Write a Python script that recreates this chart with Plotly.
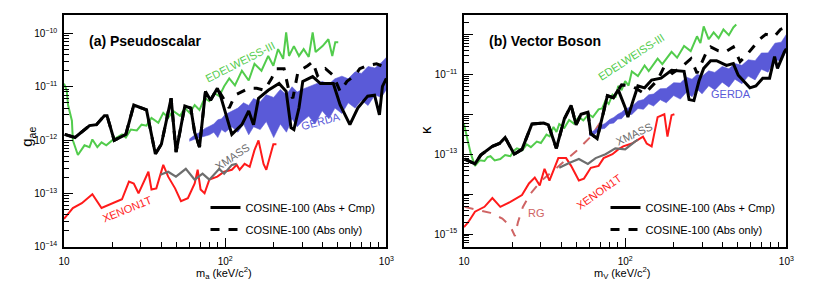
import plotly.graph_objects as go

# ================= (a) Pseudoscalar : g_ae vs m_a (keV/c^2) =================
a_cos_m = [10.1, 11.7, 14.4, 15.9, 17.8, 18.5, 20.5, 24.2, 27.1, 32.5, 36.9, 40.2, 46.2, 49.6, 56.2,
           61.2, 64.7, 69.3, 75.5, 81.1, 89.4, 93.3, 110, 127, 140, 150, 161, 185, 216, 239, 256, 267,
           287, 303, 349, 390, 469, 517, 594, 665, 766, 845, 906, 946, 1000]
a_cos_g = [1.28e-12, 1.12e-12, 1.87e-12, 1.95e-12, 2.86e-12, 2.86e-12, 9.9e-13, 1.28e-12, 4.55e-12,
           3.68e-12, 5.5e-13, 8.4e-13, 6.1e-12, 6.0e-13, 4.37e-12, 4.0e-12, 1.39e-12, 7.4e-13, 8.2e-12,
           5.6e-12, 9.35e-12, 6.95e-12, 1.28e-12, 1.95e-12, 3.53e-12, 1.95e-12, 6.1e-12, 8.6e-12,
           1.15e-11, 8.2e-12, 1.72e-12, 1.58e-12, 4.0e-12, 1.26e-11, 1.55e-11, 1.15e-11, 1.15e-11,
           4.55e-12, 1.95e-12, 4.0e-12, 6.67e-12, 6.95e-12, 2.98e-12, 1.02e-11, 1.43e-11]

a_abs_m = a_cos_m[:21] + [106, 115, 140, 157, 175, 194, 208, 232, 249, 263, 283, 325, 349, 374, 419,
                          469, 517, 570, 638, 684, 755, 869, 933, 1000]
a_abs_g = a_cos_g[:21] + [4.0e-12, 6.95e-12, 9.35e-12, 9.35e-12, 8.6e-12, 1.43e-11, 2.18e-11, 2.18e-11,
                          8.2e-12, 6.1e-12, 1.92e-11, 2.47e-11, 2.93e-11, 1.62e-11, 2.18e-11, 1.62e-11,
                          8.2e-12, 1.26e-11, 1.62e-11, 2.18e-11, 2.47e-11, 2.69e-11, 2.47e-11, 3.33e-11]

a_edw_m = [10.0, 10.4, 10.6, 11.2, 11.35, 12.2, 13.4, 14.4, 15.0, 16.1, 17.1, 18.3, 19.9, 21.3, 22.9,
           24.2, 26.0, 28.3, 30.3, 32.5, 34.9, 38.5, 41.3, 44.3, 47.5, 52.5, 56.2, 60.3, 64.7, 69.3,
           74.5, 79.8, 85.7, 91.9, 98.6, 106, 115, 127, 140, 152, 168, 185, 199, 213, 229, 239, 249,
           267, 287, 307, 330, 349, 364, 402, 437, 462, 482, 503]
a_edw_g = [1.15e-11, 8.6e-12, 4.55e-12, 2.31e-12, 9.9e-13, 5.26e-13, 8.0e-13, 7.4e-13, 1.03e-12, 7.4e-13,
           9.1e-13, 8.0e-13, 9.9e-13, 1.12e-12, 1.28e-12, 1.12e-12, 1.58e-12, 1.52e-12, 1.95e-12,
           1.87e-12, 2.62e-12, 2.12e-12, 3.24e-12, 2.62e-12, 3.53e-12, 2.86e-12, 4.0e-12, 3.24e-12,
           4.55e-12, 3.68e-12, 6.1e-12, 5.4e-12, 7.6e-12, 6.67e-12, 1.02e-11, 1.43e-11, 1.06e-11,
           2.0e-11, 1.31e-11, 2.69e-11, 2.0e-11, 3.78e-11, 2.47e-11, 5.08e-11, 3.33e-11, 1.04e-10,
           3.78e-11, 5.77e-11, 3.78e-11, 5.08e-11, 3.62e-11, 1.04e-10, 4.48e-11, 5.77e-11, 7.76e-11,
           3.78e-11, 6.84e-11, 6.84e-11]

gerda_m = [60, 65, 70, 75, 80, 85, 90, 95, 100, 110, 120, 130, 140, 150, 165, 180, 200, 220, 240, 260,
           280, 300, 330, 360, 400, 440, 480, 530, 580, 640, 700, 770, 850, 930, 1000]
a_gerda_hi = [1.05e-12, 1.26e-12, 1.41e-12, 1.66e-12, 1.82e-12, 2.0e-12, 2.4e-12, 2.51e-12, 3.02e-12,
              3.55e-12, 3.98e-12, 5.01e-12, 4.47e-12, 6.03e-12, 5.25e-12, 7.08e-12, 6.31e-12, 8.91e-12,
              7.08e-12, 1.0e-11, 7.94e-12, 8.91e-12, 1.0e-11, 1.12e-11, 1.26e-11, 1.12e-11, 1.41e-11,
              1.58e-11, 1.41e-11, 1.91e-11, 1.78e-11, 2.4e-11, 2.24e-11, 2.82e-11, 3.55e-11]
a_gerda_lo = [9.55e-13, 1.05e-12, 1.12e-12, 1.2e-12, 1.26e-12, 1.41e-12, 1.12e-12, 1.58e-12, 1.41e-12,
              1.78e-12, 1.41e-12, 2.0e-12, 1.26e-12, 1.78e-12, 1.58e-12, 2.24e-12, 1.12e-12, 2.0e-12,
              1.41e-12, 2.51e-12, 1.78e-12, 2.24e-12, 2.82e-12, 2.0e-12, 3.55e-12, 2.51e-12, 3.98e-12,
              3.16e-12, 5.01e-12, 3.98e-12, 5.62e-12, 4.47e-12, 7.08e-12, 6.31e-12, 8.91e-12]

a_xe_m = [10.0, 11.35, 12.9, 15.0, 17.1, 22.9, 25.3, 27.1, 29.0, 33.4, 34.9, 37.4, 41.3, 44.3, 48.9,
          53.2, 58.7, 64.7, 67.5, 70.4, 74.5, 79.8, 89.4, 98.6, 110, 118, 123, 132, 142, 152, 161,
          173, 180, 199, 208]
a_xe_g = [3.36e-14, 5.35e-14, 6.6e-14, 9.67e-14, 5.35e-14, 7.8e-14, 1.67e-13, 1.54e-13, 1.01e-13,
          2.56e-13, 1.19e-13, 1.25e-13, 3.44e-13, 2.07e-13, 1.25e-13, 7.2e-14, 8.2e-14, 1.54e-13,
          2.79e-13, 1.19e-13, 1.01e-13, 1.82e-13, 2.07e-13, 2.56e-13, 2.79e-13, 3.44e-13, 2.79e-13,
          3.59e-13, 3.16e-13, 6.5e-13, 9.9e-13, 3.59e-13, 2.79e-13, 8.4e-13, 8.4e-13]

a_xm_m = [39.6, 44.3, 49.5, 57.0, 64.7, 72.4, 79.8, 91.9, 98.6, 110, 118]
a_xm_g = [2.25e-13, 2.56e-13, 2.07e-13, 2.9e-13, 1.82e-13, 2.35e-13, 1.82e-13, 2.9e-13, 2.35e-13,
          3.44e-13, 3.59e-13]

# ================= (b) Vector Boson : kappa vs m_V (keV/c^2) =================
b_cos_m = [10.1, 11.7, 12.7, 15.0, 16.6, 18.0, 20.5, 22.9, 26.4, 31.2, 33.4, 37.4, 41.9, 46.2, 49.6,
           53.2, 58.7, 61.2, 67.0, 72.4, 77.6, 84.5, 90.6, 100, 104, 112, 120, 132, 146, 167, 194,
           232, 249, 267, 287, 307, 339, 369, 425, 469, 503, 594, 647, 714, 787, 845, 881, 973, 1000]
b_cos_k = [7.55e-14, 5.7e-14, 9.46e-14, 1.57e-13, 1.85e-13, 2.6e-13, 1.0e-13, 1.32e-13, 5.7e-13,
           6.0e-13, 5.4e-13, 1.4e-13, 7.55e-13, 1.66e-12, 5.4e-13, 1.0e-12, 1.12e-12, 3.25e-13,
           2.45e-13, 8.45e-13, 2.9e-12, 2.6e-12, 4.07e-12, 1.48e-12, 8.45e-13, 2.19e-12, 5.1e-12,
           4.56e-12, 7.14e-12, 7.98e-12, 1.25e-11, 1.18e-11, 2.32e-12, 2.19e-12, 6.75e-12, 1.4e-11,
           2.19e-11, 2.19e-11, 1.66e-11, 1.85e-11, 9.46e-12, 4.56e-12, 5.1e-12, 7.98e-12, 7.98e-12,
           2.75e-11, 1.4e-11, 3.64e-11, 4.3e-11]

b_abs_m = b_cos_m[:22] + [95, 110, 132, 159, 175, 196, 226, 256, 279, 316, 339, 379, 419, 469, 517,
                          562, 684, 745, 845, 919, 986]
b_abs_k = b_cos_k[:22] + [5.4e-12, 5.1e-12, 3.25e-12, 7.14e-12, 1.57e-11, 1.06e-11, 1.57e-11, 2.45e-11,
                          1.06e-11, 3.25e-11, 4.82e-11, 3.85e-11, 3.64e-11, 4.82e-11, 2.07e-11, 2.9e-11,
                          7.55e-11, 1.0e-10, 8.9e-11, 1.32e-10, 1.48e-10]

b_edw_m = [10.0, 10.5, 11.0, 11.7, 12.5, 13.4, 14.0, 14.6, 15.5, 16.8, 18.0, 19.4, 20.3, 21.3, 23.0,
           24.5, 26.0, 28.3, 30.0, 32.5, 34.0, 35.9, 37.5, 39.0, 42.0, 44.9, 48.0, 51.6, 55.0, 59.4,
           63.0, 68.4, 72.0, 75.5, 79.0, 83.4, 87.0, 90.6, 95.0, 100, 105, 110, 120, 132, 140, 159,
           170, 194, 210, 232, 255, 279, 293, 307, 330, 354, 380, 407, 440, 469, 489]
b_edw_k = [5.7e-13, 2.5e-13, 1.06e-13, 5.1e-14, 7.0e-14, 6.75e-14, 8.5e-14, 8.9e-14, 7.0e-14, 7.55e-14,
           9.5e-14, 8.9e-14, 1.2e-13, 1.4e-13, 1.25e-13, 1.75e-13, 1.5e-13, 2.07e-13, 1.9e-13, 3.08e-13,
           2.8e-13, 4.8e-13, 3.6e-13, 5.7e-13, 4.6e-13, 7.14e-13, 5.8e-13, 8.45e-13, 7.0e-13, 1.0e-12,
           8.5e-13, 1.32e-12, 1.4e-12, 2.19e-12, 1.8e-12, 3.08e-12, 2.6e-12, 5.1e-12, 4.0e-12, 6.75e-12,
           5.2e-12, 1.18e-11, 9.0e-12, 1.66e-11, 1.2e-11, 2.45e-11, 1.8e-11, 3.64e-11, 2.6e-11, 5.1e-11,
           3.8e-11, 8.9e-11, 6.0e-11, 1.57e-10, 7.5e-11, 1.12e-10, 8.0e-11, 1.32e-10, 9.5e-11, 1.48e-10,
           1.75e-10]

b_gerda_hi = [3.37e-13, 4.01e-13, 5.12e-13, 5.86e-13, 7.33e-13, 8.32e-13, 9.93e-13, 1.12e-12, 1.35e-12,
              1.56e-12, 2.14e-12, 2.32e-12, 3.05e-12, 3.2e-12, 4.33e-12, 4.42e-12, 6.14e-12, 6.01e-12,
              8.45e-12, 7.52e-12, 1.0e-11, 8.89e-12, 1.22e-11, 1.11e-11, 1.56e-11, 1.37e-11, 1.85e-11,
              1.67e-11, 2.3e-11, 2.18e-11, 3.41e-11, 3.42e-11, 5.98e-11, 6.35e-11, 9.9e-11]
b_gerda_lo = [2.87e-13, 3.18e-13, 4.21e-13, 4.45e-13, 5.79e-13, 6.03e-13, 7.55e-13, 7.73e-13, 9.84e-13,
              9.86e-13, 1.39e-12, 1.33e-12, 1.83e-12, 1.6e-12, 2.31e-12, 1.93e-12, 2.92e-12, 2.39e-12,
              3.57e-12, 2.73e-12, 4.23e-12, 3.23e-12, 5.15e-12, 4.05e-12, 6.35e-12, 4.76e-12, 7.53e-12,
              5.79e-12, 9.0e-12, 7.23e-12, 1.33e-11, 1.13e-11, 2.34e-11, 2.1e-11, 3.87e-11]

b_xe_m = [10.0, 10.6, 11.7, 13.4, 15.0, 16.8, 19.4, 22.9, 25.3, 27.5, 29.5, 31.6, 33.9, 35.9, 38.5,
          43.0, 46.2, 51.6, 55.5, 61.2, 68.4, 73.5, 83.4, 90.6, 97.2, 110, 120, 129, 136, 146, 159,
          175, 183, 194, 202]
b_xe_k = [1.5e-15, 1.96e-15, 3.64e-15, 4.82e-15, 7.98e-15, 4.82e-15, 6.38e-15, 9.46e-15, 1.85e-14,
          2.6e-14, 1.66e-14, 4.3e-14, 2.19e-14, 3.85e-14, 7.98e-14, 7.98e-14, 5.1e-14, 2.19e-14,
          2.45e-14, 4.56e-14, 5.1e-14, 7.98e-14, 1.0e-13, 1.32e-13, 1.57e-13, 1.85e-13, 2.32e-13,
          2.75e-13, 1.85e-13, 1.57e-13, 8.45e-13, 1.0e-12, 2.75e-13, 9.46e-13, 1.0e-12]

b_xm_m = [39.0, 44.9, 51.6, 58.7, 65.6, 75.5, 86.9, 100, 115, 120]
b_xm_k = [4.56e-14, 6.03e-14, 7.55e-14, 5.7e-14, 7.98e-14, 1.0e-13, 1.4e-13, 1.32e-13, 2.07e-13, 2.32e-13]

b_rg_m = [10.1, 14.6, 17.3, 19.4, 20.7, 21.6, 23.2, 26.0, 30.3, 37.4, 49.6, 61.2, 70.4]
b_rg_k = [4.8e-15, 3.4e-15, 2.45e-15, 1.57e-15, 8.9e-16, 1.96e-15, 4.8e-15, 1.06e-14, 2.19e-14,
          4.56e-14, 1.18e-13, 2.75e-13, 6.38e-13]

# ---------------- style ----------------
GREEN = "#52cc4c"
BLUE = "#5a5ad8"
RED = "#ff1a1a"
GRAY = "#6e6e6e"
RGC = "#cf6464"
FONT = "Liberation Sans"
W, H = 814, 297

fig = go.Figure()


def add_panel(xa, ya, legend, gerda_hi, gerda_lo, edw_m, edw_v, xe_m, xe_v, xm_m, xm_v,
              abs_m, abs_v, cos_m, cos_v):
    fig.add_trace(go.Scatter(x=gerda_m + gerda_m[::-1], y=gerda_hi + gerda_lo[::-1], fill="toself",
                             fillcolor=BLUE, line=dict(color=BLUE, width=0.6), mode="lines",
                             xaxis=xa, yaxis=ya, showlegend=False, hoverinfo="skip"))
    fig.add_trace(go.Scatter(x=edw_m, y=edw_v, mode="lines", line=dict(color=GREEN, width=2),
                             xaxis=xa, yaxis=ya, showlegend=False))
    fig.add_trace(go.Scatter(x=xe_m, y=xe_v, mode="lines", line=dict(color=RED, width=2),
                             xaxis=xa, yaxis=ya, showlegend=False))
    fig.add_trace(go.Scatter(x=xm_m, y=xm_v, mode="lines", line=dict(color=GRAY, width=2.2),
                             xaxis=xa, yaxis=ya, showlegend=False))
    fig.add_trace(go.Scatter(x=cos_m, y=cos_v, mode="lines", line=dict(color="black", width=3),
                             xaxis=xa, yaxis=ya, name="COSINE-100 (Abs + Cmp)", legend=legend,
                             legendgroup=legend + "a"))
    fig.add_trace(go.Scatter(x=abs_m, y=abs_v, mode="lines",
                             line=dict(color="black", width=3, dash="dash"),
                             xaxis=xa, yaxis=ya, name="COSINE-100 (Abs only)", legend=legend,
                             legendgroup=legend + "b"))


fig.add_trace(go.Scatter(x=b_rg_m, y=b_rg_k, mode="lines", line=dict(color=RGC, width=2, dash="dash"),
                         xaxis="x2", yaxis="y2", showlegend=False))
add_panel("x", "y", "legend", a_gerda_hi, a_gerda_lo, a_edw_m, a_edw_g, a_xe_m, a_xe_g,
          a_xm_m, a_xm_g, a_abs_m, a_abs_g, a_cos_m, a_cos_g)
add_panel("x2", "y2", "legend2", b_gerda_hi, b_gerda_lo, b_edw_m, b_edw_k, b_xe_m, b_xe_k,
          b_xm_m, b_xm_k, b_abs_m, b_abs_k, b_cos_m, b_cos_k)

x_major = [10, 100, 1000]
x_text = ["10", "10<sup>2</sup>", "10<sup>3</sup>"]
x_minor = [k * d for d in (10, 100) for k in range(2, 10)]


def sup(e):
    return "10<sup>\u2212%d</sup>" % (-e)


a_y_major = [10.0 ** e for e in range(-14, -9)]
a_y_text = [sup(e) for e in range(-14, -9)]
a_y_minor = [k * 10.0 ** e for e in range(-14, -10) for k in range(2, 10)]
b_y_major = [10.0 ** e for e in range(-16, -8)]
b_y_text = [sup(e) if e in (-15, -13, -11) else "" for e in range(-16, -8)]
b_y_minor = [k * 10.0 ** e for e in range(-16, -9) for k in range(2, 10)]

tickfont = dict(family=FONT, size=10, color="black")


def xaxis(dom, anchor):
    return dict(type="log", domain=dom, anchor=anchor, range=[1, 3], tickvals=x_major, ticktext=x_text,
                ticks="inside", ticklen=9, tickwidth=1, tickcolor="black",
                minor=dict(tickvals=x_minor, ticks="inside", ticklen=5, tickwidth=1, tickcolor="black"),
                showline=True, linecolor="black", linewidth=1.6, mirror=True, showgrid=False,
                zeroline=False, tickfont=tickfont, ticklabelstandoff=4)


def yaxis(dom, anchor, rng, major, text, minor):
    return dict(type="log", domain=dom, anchor=anchor, range=rng, tickvals=major, ticktext=text,
                ticks="inside", ticklen=9, tickwidth=1, tickcolor="black",
                minor=dict(tickvals=minor, ticks="inside", ticklen=5, tickwidth=1, tickcolor="black"),
                showline=True, linecolor="black", linewidth=1.6, mirror=True, showgrid=False,
                zeroline=False, tickfont=tickfont, ticklabelstandoff=3)


ydom = [1 - 252 / H, 1 - 15 / H]
fig.update_layout(
    width=W, height=H, margin=dict(l=0, r=0, t=0, b=0), autosize=False,
    paper_bgcolor="white", plot_bgcolor="white",
    font=dict(family=FONT, color="black"),
    xaxis=xaxis([59 / W, 387 / W], "y"),
    yaxis=yaxis(ydom, "x", [-14.0, -9.65], a_y_major, a_y_text, a_y_minor),
    xaxis2=xaxis([466 / W, 794 / W], "y2"),
    yaxis2=yaxis(ydom, "x2", [-15.32, -9.51], b_y_major, b_y_text, b_y_minor),
    legend=dict(x=203 / W, y=1 - 197 / H, xanchor="left", yanchor="top", bgcolor="rgba(0,0,0,0)",
                font=dict(family=FONT, size=11), itemwidth=30, tracegroupgap=3),
    legend2=dict(x=610 / W, y=1 - 197 / H, xanchor="left", yanchor="top", bgcolor="rgba(0,0,0,0)",
                 font=dict(family=FONT, size=11), itemwidth=30, tracegroupgap=3),
    showlegend=True,
)


def ann(text, px, py, color="black", size=11, angle=0, bold=False, xanchor="center"):
    fig.add_annotation(text=("<b>%s</b>" % text) if bold else text, x=px / W, y=1 - py / H,
                       xref="paper", yref="paper", showarrow=False, textangle=angle,
                       xanchor=xanchor, yanchor="middle",
                       font=dict(family=FONT, size=size, color=color))


ann("(a) Pseudoscalar", 82, 42, size=14, bold=True, xanchor="left")
ann("EDELWEISS-III", 238, 63, GREEN, 11, -27)
ann("GERDA", 321, 124, BLUE, 11, -15)
ann("XMASS", 230, 160, GRAY, 11, -34)
ann("XENON1T", 123, 213, RED, 11, -22)
ann("g<sub>ae</sub>", 22, 140, size=15, angle=-90)
ann("m<sub>a</sub> (keV/c<sup>2</sup>)", 222, 279, size=11)

ann("(b) Vector Boson", 489, 42, size=14, bold=True, xanchor="left")
ann("EDELWEISS-III", 636, 58, GREEN, 11, -33)
ann("GERDA", 738, 96, BLUE, 11, 0)
ann("XMASS", 639, 137, GRAY, 11, -25)
ann("XENON1T", 603, 196, RED, 11, -35)
ann("RG", 540, 217, RGC, 11, 0)
ann("\u03ba", 427, 133, size=15, angle=-90)
ann("m<sub>V</sub> (keV/c<sup>2</sup>)", 627, 279, size=11)

fig.write_html("out.html", config={"displayModeBar": False},
               post_script="document.body.style.margin='0';")
